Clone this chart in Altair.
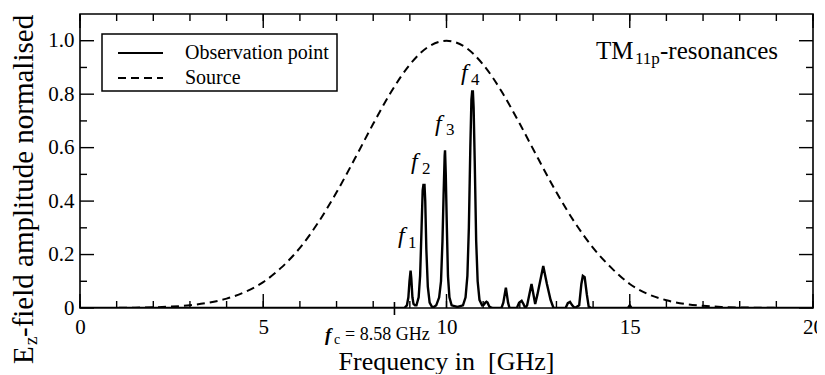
import altair as alt
import pandas as pd

# ---------------- data ----------------
obs_f = [0.0, 8.85, 8.92, 8.96, 8.99, 9.02, 9.04, 9.07, 9.10, 9.14,
         9.18, 9.24, 9.28, 9.32, 9.35, 9.37, 9.40, 9.42, 9.45, 9.49, 9.54, 9.60,
         9.66, 9.72, 9.80, 9.85, 9.89, 9.92, 9.95, 9.96, 9.98, 10.01, 10.04, 10.08, 10.14,
         10.30, 10.45, 10.52, 10.57, 10.61, 10.65, 10.68, 10.70, 10.72, 10.74, 10.77, 10.81, 10.85, 10.90, 10.97,
         11.02, 11.06, 11.09, 11.12, 11.17, 11.25,
         11.50, 11.55, 11.62, 11.68, 11.72,
         11.92, 11.98, 12.05, 12.10, 12.15,
         12.20, 12.32, 12.42, 12.48, 12.64, 12.74, 12.84, 12.92,
         13.25, 13.31, 13.37, 13.43, 13.50, 13.62, 13.68, 13.72, 13.77, 13.83, 13.88, 13.95,
         14.95, 15.00, 15.05, 20.0]
obs_a = [0.0, 0.0, 0.01, 0.04, 0.10, 0.14, 0.11, 0.04, 0.015, 0.01,
         0.01, 0.04, 0.12, 0.30, 0.44, 0.46, 0.46, 0.40, 0.22, 0.08, 0.02, 0.005,
         0.004, 0.01, 0.04, 0.10, 0.25, 0.42, 0.57, 0.59, 0.50, 0.30, 0.12, 0.04, 0.01,
         0.004, 0.01, 0.04, 0.12, 0.30, 0.60, 0.78, 0.81, 0.81, 0.75, 0.55, 0.25, 0.10, 0.03, 0.01,
         0.012, 0.02, 0.023, 0.02, 0.005, 0.0,
         0.0, 0.02, 0.076, 0.02, 0.0,
         0.0, 0.02, 0.027, 0.015, 0.0,
         0.01, 0.09, 0.015, 0.05, 0.157, 0.09, 0.03, 0.0,
         0.0, 0.018, 0.023, 0.01, 0.0, 0.01, 0.09, 0.12, 0.115, 0.05, 0.005, 0.0,
         0.0, 0.01, 0.0, 0.0]

src_f = [0.0, 0.5, 1.0, 1.5, 2.0, 2.5, 3.0, 3.5, 4.0, 4.5, 5.0, 5.5, 6.0, 6.5, 7.0, 7.5,
         8.0, 8.5, 9.0, 9.5, 10.0, 10.5, 11.0, 11.5, 12.0, 12.5, 13.0, 13.5, 14.0, 14.5,
         15.0, 15.5, 16.0, 16.5, 17.0, 17.5, 18.0, 18.5, 19.0, 19.5, 20.0]
src_a = [0.0, 0.0002, 0.0005, 0.0012, 0.0026, 0.0053, 0.0104, 0.0196, 0.035, 0.060,
         0.097, 0.152, 0.225, 0.320, 0.433, 0.559, 0.689, 0.811, 0.911, 0.977, 1.0,
         0.977, 0.911, 0.811, 0.689, 0.559, 0.433, 0.320, 0.225, 0.150, 0.090,
         0.052, 0.029, 0.015, 0.008, 0.004, 0.002, 0.001, 0.0005, 0.0002, 0.0]

x_major = [0, 5, 10, 15, 20]
x_minor = list(range(0, 21))
y_major = [0.0, 0.2, 0.4, 0.6, 0.8, 1.0]
y_minor = [0.1, 0.3, 0.5, 0.7, 0.9]
fc = 8.58

series = ["Observation point", "Source"]

# ---------------- layout ----------------
W, H = 733, 294
FONT = "Liberation Serif"
xs = alt.Scale(domain=[0, 20], nice=False, zero=False)
ys = alt.Scale(domain=[0, 1.1], nice=False, zero=False)
dummy = pd.DataFrame({"d": [0]})

obs_df = pd.DataFrame({"f": obs_f, "a": obs_a})
src_df = pd.DataFrame({"f": src_f, "a": src_a})

obs = alt.Chart(obs_df).mark_line(color="black", strokeWidth=2.4, clip=True).encode(
    x=alt.X("f:Q", scale=xs, axis=alt.Axis(values=x_major, title=None, ticks=False, domain=False,
                                            grid=False, labelFont=FONT, labelFontSize=21,
                                            labelColor="black", labelPadding=8, labelFlush=False,
                                            labelOverlap=False, format="d")),
    y=alt.Y("a:Q", scale=ys, axis=alt.Axis(values=y_major, title=None, ticks=False, domain=False,
                                            grid=False, labelFont=FONT, labelFontSize=21,
                                            labelColor="black", labelPadding=6, labelOverlap=False,
                                            labelExpr="datum.value == 0 ? '0' : format(datum.value, '.1f')")),
)
src = alt.Chart(src_df).mark_line(color="black", strokeWidth=2, strokeDash=[8, 5],
                                  interpolate="monotone", clip=True).encode(
    x=alt.X("f:Q", scale=xs),
    y=alt.Y("a:Q", scale=ys),
)


def xticks(vals, y0, y1, sw=1.4):
    return alt.Chart(pd.DataFrame({"v": vals})).mark_rule(color="black", strokeWidth=sw).encode(
        x=alt.X("v:Q", scale=xs), y=alt.value(y0), y2=alt.value(y1))


def yticks(vals, x0, x1, sw=1.4):
    return alt.Chart(pd.DataFrame({"v": vals})).mark_rule(color="black", strokeWidth=sw).encode(
        y=alt.Y("v:Q", scale=ys), x=alt.value(x0), x2=alt.value(x1))


ticks = [
    xticks(x_minor, H, H - 7), xticks(x_major, H, H - 14),
    xticks(x_minor, 0, 7), xticks(x_major, 0, 14),
    yticks(y_minor, 0, 7), yticks(y_major, 0, 14),
    yticks(y_minor, W, W - 7), yticks(y_major, W, W - 14),
    xticks([fc], H - 6, H + 7, 1.6),
]


def txt(s, x, y, size, style="normal", weight="normal", angle=0, align="left"):
    return alt.Chart(dummy).mark_text(text=s, fontSize=size, font=FONT, fontStyle=style,
                                      fontWeight=weight, angle=angle, align=align,
                                      baseline="alphabetic", color="black").encode(
        x=alt.value(x), y=alt.value(y))


# legend (drawn)
legend_box = alt.Chart(dummy).mark_rect(fill="white", stroke="black", strokeWidth=1.5).encode(
    x=alt.value(22), x2=alt.value(257), y=alt.value(20), y2=alt.value(77))
leg_solid = alt.Chart(dummy).mark_rule(color="black", strokeWidth=2).encode(
    x=alt.value(38), x2=alt.value(83), y=alt.value(39))
leg_dash = alt.Chart(dummy).mark_rule(color="black", strokeWidth=2, strokeDash=[8, 5]).encode(
    x=alt.value(38), x2=alt.value(83), y=alt.value(64))

texts = [
    txt(series[0], 105, 45, 20),
    txt(series[1], 105, 70, 20),
    # TM11p-resonances
    txt("TM", 516, 45, 25),
    txt("11p", 555, 50, 17),
    txt("-resonances", 580, 45, 25),
    # f labels
    txt("f", 318, 229, 24, style="italic"), txt("1", 328, 234, 17),
    txt("f", 331, 155, 24, style="italic"), txt("2", 342, 160, 17),
    txt("f", 355, 117, 24, style="italic"), txt("3", 366, 121, 17),
    txt("f", 381, 66, 24, style="italic"), txt("4", 391, 71, 17),
    # fc label
    txt("f", 245, 327, 19, style="italic", weight="bold"),
    txt("c", 254, 330, 14),
    txt("= 8.58 GHz", 265, 326, 18),
    # axis titles
    txt("Frequency in\u00a0 [GHz]", W / 2, 356, 26, align="center"),
    txt("E", -47, 350, 29, angle=270),
    txt("z", -43, 331, 19, angle=270),
    txt("-field amplitude normalised", -47, 323, 29, angle=270),
]

chart = alt.layer(obs, src, legend_box, *ticks, leg_solid, leg_dash, *texts).properties(
    width=W, height=H,
    autosize=alt.AutoSizeParams(type="none"),
    padding={"left": 72, "top": 6, "right": 4, "bottom": 66},
    background="white",
).configure_view(stroke="black", strokeWidth=1.6)

chart.save("out.html", embed_options={"renderer": "svg", "actions": False})
